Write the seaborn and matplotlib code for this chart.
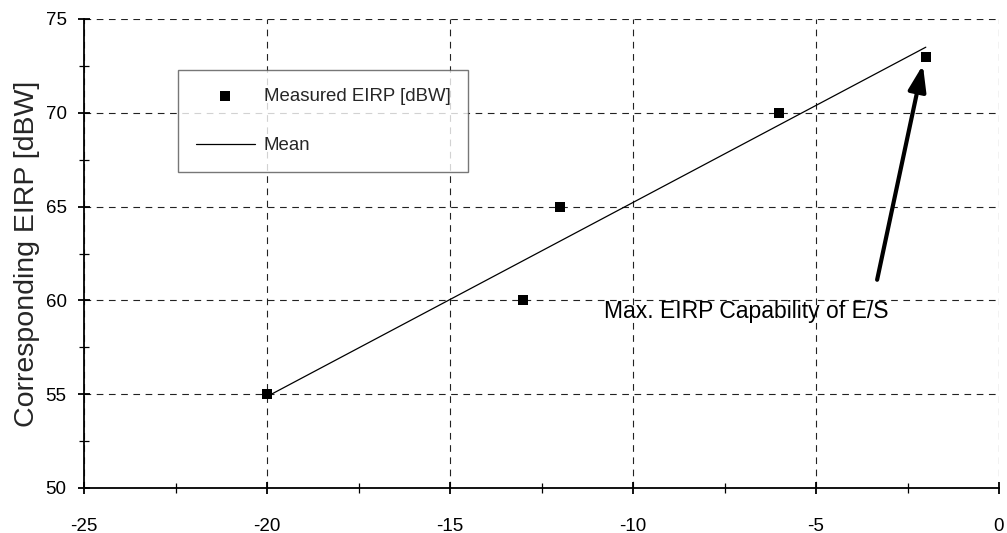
import numpy as np
import pandas as pd
import matplotlib
matplotlib.use("Agg")
import matplotlib.pyplot as plt
from matplotlib.ticker import MultipleLocator
import seaborn as sns

# Measured data
offset_db = [-20, -13, -12, -6, -2]
eirp_dbw = [55, 60, 65, 70, 73]

x_ticks = [-25, -20, -15, -10, -5, 0]
y_ticks = [50, 55, 60, 65, 70, 75]

df = pd.DataFrame({"offset": offset_db, "eirp": eirp_dbw})

sns.set_theme(style="white")
plt.rcParams["font.family"] = ["Liberation Sans", "DejaVu Sans"]
plt.rcParams["axes.unicode_minus"] = False

fig = plt.figure(figsize=(10.07, 5.33), dpi=100)
ax = fig.add_axes([84 / 1007, 1 - 488 / 533, (999 - 84) / 1007, (488 - 19) / 533])

# Least-squares mean line through the measurements
sns.regplot(data=df, x="offset", y="eirp", ax=ax, ci=None, scatter=False,
            truncate=True, line_kws={"color": "black", "lw": 0.9}, label="Mean")
sns.scatterplot(data=df, x="offset", y="eirp", ax=ax, marker="s", s=55,
                color="black", edgecolor="black", linewidth=0,
                label="Measured EIRP [dBW]", zorder=5)

ax.set_xlim(-25, 0)
ax.set_ylim(50, 75)
ax.set_xticks(x_ticks)
ax.set_yticks(y_ticks)
ax.xaxis.set_minor_locator(MultipleLocator(2.5))
ax.yaxis.set_minor_locator(MultipleLocator(2.5))
ax.tick_params(axis="both", which="major", direction="inout", length=9, width=1.3,
               color="black", labelsize=13.5, labelcolor="black")
ax.tick_params(axis="both", which="minor", direction="inout", length=7, width=0.9,
               color="black")
ax.tick_params(axis="x", which="major", pad=17)
ax.tick_params(axis="y", which="major", pad=8)
ax.xaxis.set_ticks_position("bottom")
ax.yaxis.set_ticks_position("left")

ax.grid(True, which="major", linestyle=(0, (6, 5)), color="#222222", linewidth=0.8)
for side in ("top", "right"):
    ax.spines[side].set_visible(False)
for side in ("left", "bottom"):
    ax.spines[side].set_color("black")
    ax.spines[side].set_linewidth(1.3)

ax.set_xlabel("")
ax.set_ylabel("Corresponding EIRP [dBW]", fontsize=20.5, labelpad=4)

handles, labels = ax.get_legend_handles_labels()
order = [labels.index("Measured EIRP [dBW]"), labels.index("Mean")]
leg = ax.legend([handles[i] for i in order], [labels[i] for i in order],
                loc="upper left", bbox_to_anchor=(94 / 915, 1 - 51 / 469),
                fontsize=13.4, frameon=True, fancybox=False, borderpad=0.95,
                labelspacing=1.75, handlelength=3.2, handletextpad=0.45,
                borderaxespad=0)
leg.get_frame().set_edgecolor("#555555")
leg.get_frame().set_linewidth(1.0)

# Arrow pointing at the highest measurement, with its caption
ax.annotate("", xy=(-2.08, 72.55), xytext=(-3.33, 61.1),
            arrowprops=dict(arrowstyle="-|>,head_length=1.3,head_width=0.45",
                            color="black", lw=3, shrinkA=0, shrinkB=0))
ax.text(-10.79, 59.4, "Max. EIRP Capability of E/S", fontsize=16.5,
        ha="left", va="center", color="black")

fig.savefig("out.png", dpi=100)
